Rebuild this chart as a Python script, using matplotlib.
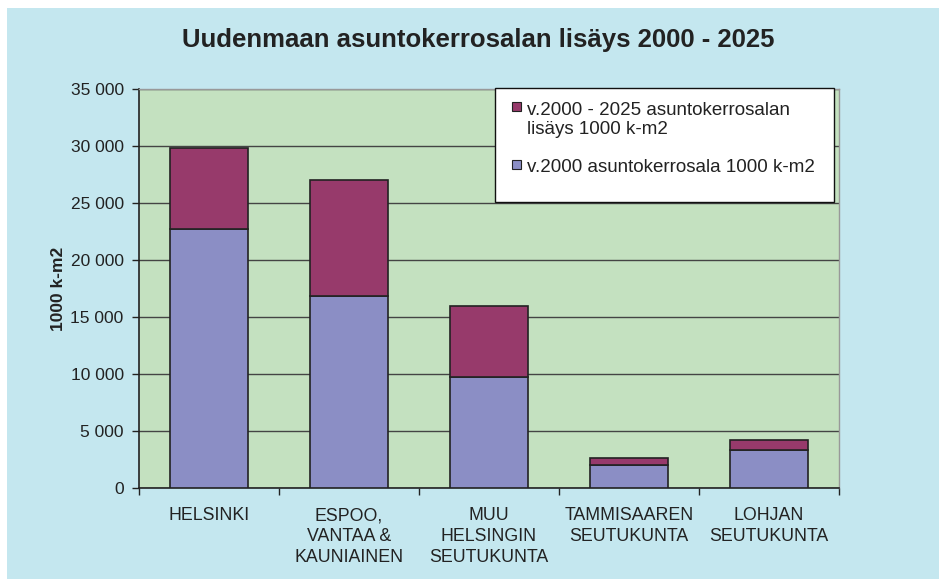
import matplotlib.pyplot as plt
from matplotlib.patches import Rectangle
import numpy as np

plt.rcParams['font.family'] = ['Liberation Sans', 'DejaVu Sans']

# data (1000 k-m2)
categories = ['HELSINKI', 'ESPOO,\nVANTAA &\nKAUNIAINEN', 'MUU\nHELSINGIN\nSEUTUKUNTA',
              'TAMMISAAREN\nSEUTUKUNTA', 'LOHJAN\nSEUTUKUNTA']
floor_2000 = [22690, 16840, 9760, 2050, 3300]
increase_2000_2025 = [7160, 10150, 6200, 610, 910]
yticks = [0, 5000, 10000, 15000, 20000, 25000, 30000, 35000]
c_floor = '#8B8EC5'
c_incr = '#973A6B'

W, H = 939, 579
fig = plt.figure(figsize=(W / 100, H / 100), dpi=100)
fig.patch.set_facecolor('white')
fig.patches.append(Rectangle((7 / W, 0), 1, 1 - 8 / H, transform=fig.transFigure,
                             facecolor='#C4E7EF', edgecolor='none', zorder=-10))

ax = fig.add_axes([139 / W, 1 - 488 / H, 700 / W, 399 / H])
ax.set_facecolor('#C4E1C0')

x = np.arange(len(categories))
ax.bar(x, floor_2000, width=0.56, color=c_floor, edgecolor='#222222', linewidth=1.2, zorder=3)
ax.bar(x, increase_2000_2025, bottom=floor_2000, width=0.56, color=c_incr,
       edgecolor='#222222', linewidth=1.2, zorder=3)

ax.set_xlim(-0.5, len(categories) - 0.5)
ax.set_ylim(0, 35000)
ax.set_yticks(yticks)
ax.set_yticklabels([f'{v:,}'.replace(',', ' ') for v in yticks], fontsize=12.5, color='#222222')
ax.yaxis.grid(True, color='#444444', linewidth=1.0, zorder=0)
ax.tick_params(axis='y', length=5, width=1, color='#222222', pad=6)

ax.set_xticks(x)
ax.set_xticklabels(categories, fontsize=12.8, color='#222222', linespacing=1.3)
ax.set_xticks(np.arange(-0.5, len(categories)), minor=True)
ax.tick_params(axis='x', which='major', length=0, pad=14)
ax.tick_params(axis='x', which='minor', length=5, width=1, color='#222222')

for s in ['top', 'right']:
    ax.spines[s].set_color('#999999')
    ax.spines[s].set_linewidth(1.0)
for s in ['left', 'bottom']:
    ax.spines[s].set_color('#222222')
    ax.spines[s].set_linewidth(1.2)

ax.set_ylabel('1000 k-m2', fontsize=12.5, fontweight='bold', labelpad=3, color='#222222')

fig.text(478 / W, 1 - 40 / H, 'Uudenmaan asuntokerrosalan lisäys 2000 - 2025',
         ha='center', va='center', fontsize=18.5, fontweight='bold', color='#222222')

# legend drawn by hand so the marker sits on the first text line, as in the reference
fig.patches.append(Rectangle((495 / W, 1 - 202 / H), 339 / W, 114 / H,
                             transform=fig.transFigure, facecolor='white',
                             edgecolor='#111111', linewidth=1.0, zorder=5))
legend_items = [(c_incr, ['v.2000 - 2025 asuntokerrosalan', 'lisäys 1000 k-m2'], [115, 134]),
                (c_floor, ['v.2000 asuntokerrosala 1000 k-m2'], [172])]
for color, lines, baselines in legend_items:
    top = baselines[0] - 12.5
    fig.patches.append(Rectangle((512 / W, 1 - (top + 9) / H), 9 / W, 9 / H,
                                 transform=fig.transFigure, facecolor=color,
                                 edgecolor='#222222', linewidth=0.8, zorder=6))
    for line, b in zip(lines, baselines):
        fig.text(527 / W, 1 - b / H, line, ha='left', va='baseline',
                 fontsize=13.5, color='#222222', zorder=7)

fig.savefig('out.png', dpi=100)
